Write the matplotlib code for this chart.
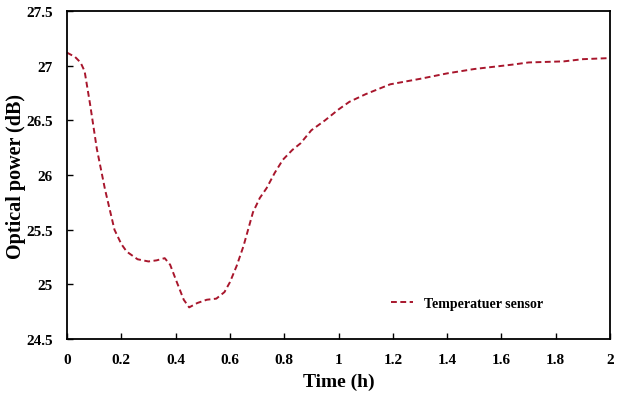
import matplotlib
matplotlib.use("Agg")
import matplotlib.pyplot as plt

# time (h) and optical power (dB)
time_h = [0, 0.03, 0.05, 0.065, 0.085, 0.11, 0.14, 0.175, 0.20, 0.22, 0.26,
          0.30, 0.33, 0.36, 0.38, 0.40, 0.43, 0.45, 0.48, 0.515, 0.55, 0.58,
          0.60, 0.625, 0.65, 0.685, 0.71, 0.735, 0.765, 0.795, 0.83, 0.86,
          0.90, 0.95, 1.00, 1.04, 1.10, 1.19, 1.30, 1.40, 1.50, 1.64, 1.70,
          1.83, 1.90, 2.00]
power_db = [27.12, 27.08, 27.03, 26.95, 26.65, 26.24, 25.87, 25.50, 25.37,
            25.30, 25.23, 25.21, 25.22, 25.24, 25.18, 25.05, 24.86, 24.79,
            24.83, 24.86, 24.87, 24.93, 25.02, 25.17, 25.35, 25.66, 25.79,
            25.88, 26.02, 26.14, 26.23, 26.29, 26.41, 26.50, 26.60, 26.67,
            26.74, 26.83, 26.88, 26.93, 26.97, 27.01, 27.03, 27.04, 27.06,
            27.07]

xticks = [0, 0.2, 0.4, 0.6, 0.8, 1, 1.2, 1.4, 1.6, 1.8, 2]
xticklabels = ["0", "0.2", "0.4", "0.6", "0.8", "1", "1.2", "1.4", "1.6", "1.8", "2"]
yticks = [24.5, 25, 25.5, 26, 26.5, 27, 27.5]
yticklabels = ["24.5", "25", "25.5", "26", "26.5", "27", "27.5"]

plt.rcParams['font.family'] = ['Liberation Serif', 'DejaVu Serif']
plt.rcParams['font.weight'] = 'bold'

fig = plt.figure(figsize=(6.2, 4.02), dpi=100)
ax = fig.add_axes([0.108, 0.154, 0.876, 0.816])

ax.plot(time_h, power_db, color="#a8162c", linestyle="--", linewidth=1.4,
        dashes=(3, 1.8), label="Temperatuer sensor")

ax.set_xlim(0, 2)
ax.set_ylim(24.5, 27.5)
ax.set_xticks(xticks)
ax.set_xticklabels(xticklabels, fontsize=11, fontweight="bold")
ax.set_yticks(yticks)
ax.set_yticklabels(yticklabels, fontsize=11, fontweight="bold")
ax.tick_params(axis="x", direction="in", length=4, width=1, pad=10)
ax.tick_params(axis="y", direction="in", length=4, width=1, pad=10)

for s in ax.spines.values():
    s.set_linewidth(1.3)

ax.set_xlabel("Time (h)", fontsize=14, fontweight="bold")
ax.set_ylabel("Optical power (dB)", fontsize=14.5, fontweight="bold")
ax.xaxis.set_label_coords(0.5, -0.102)
ax.yaxis.set_label_coords(-0.075, 0.5)

leg = ax.legend(loc="lower right", bbox_to_anchor=(0.9, 0.05), frameon=False,
                fontsize=10, handlelength=1.6)
for t in leg.get_texts():
    t.set_fontweight("bold")

fig.savefig("out.png", dpi=100)
